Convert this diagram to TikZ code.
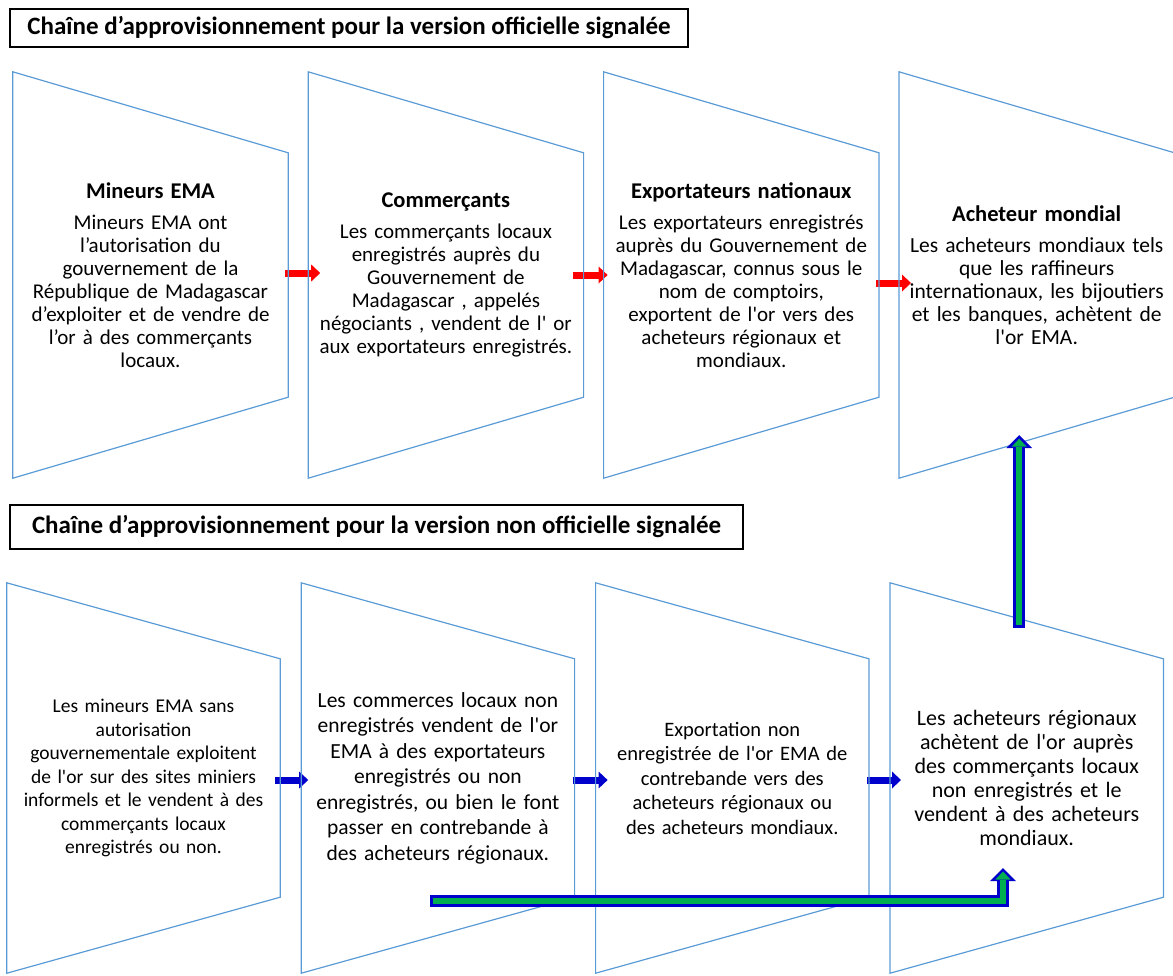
\documentclass[tikz,border=0pt]{standalone}
\usepackage{fontspec}
\setmainfont{Carlito}[Ligatures=TeXOff]
\usetikzlibrary{positioning,arrows.meta}
\definecolor{edgeblue}{RGB}{91,155,213}
\definecolor{flowred}{RGB}{255,0,0}
\definecolor{flowblue}{RGB}{0,0,204}
\definecolor{smuggreen}{RGB}{0,176,80}
\newcommand\stagehead[1]{{\fontsize{22.5}{26}\selectfont\bfseries #1}\\[8pt]}

\begin{document}
\begin{tikzpicture}[x=1pt,y=-1pt,node distance=20pt,
    stage/.style={minimum width=275pt,minimum height=406pt,inner sep=0pt,text width=272pt,align=center,font=\fontsize{21}{23}\selectfont},
    lowstage/.style={stage,minimum width=273pt,minimum height=390pt,text width=270pt},
    stagebox/.style={draw=edgeblue,line width=1.2pt,line join=miter},
    titlebox/.style={draw,line width=1.8pt,inner sep=0pt,font=\fontsize{25}{28}\selectfont\bfseries},
    legal/.style={draw=flowred,line width=7pt,-{Triangle[length=9pt,width=17pt,line width=0pt]}},
    informal/.style={draw=flowblue,line width=7pt,-{Triangle[length=9pt,width=17pt,line width=0pt]}},
    smugout/.style={draw=flowblue,line width=12pt,line join=miter,-{Triangle[length=13pt,width=26pt,line width=0pt]}},
    smugin/.style={draw=smuggreen,line width=6pt,line join=miter,shorten <=3pt,shorten >=3.5pt,-{Triangle[length=8pt,width=15pt,line width=0pt]}}]
  \useasboundingbox (0,0) rectangle (1173,975);

  % official chain
  \node[titlebox,minimum width=678pt,minimum height=38pt] (t1) at (349,28) {Chaîne d’approvisionnement pour la version officielle signalée};
  \node[stage] (a1) at (150.5,275) {\stagehead{Mineurs EMA}Mineurs EMA ont\\l’autorisation du\\gouvernement de la\\République de Madagascar\\d’exploiter et de vendre de\\l’or à des commerçants\\locaux.};
  \node[stage,right=of a1] (a2) {\stagehead{Commerçants}Les commerçants locaux\\enregistrés auprès du\\Gouvernement de\\Madagascar , appelés\\négociants , vendent de l' or\\aux exportateurs enregistrés.};
  \node[stage,right=of a2] (a3) {\stagehead{Exportateurs nationaux}Les exportateurs enregistrés\\auprès du Gouvernement de\\Madagascar, connus sous le\\nom de comptoirs,\\exportent de l'or vers des\\acheteurs régionaux et\\mondiaux.};
  \node[stage,right=of a3,font=\fontsize{21.5}{23}\selectfont] (a4) {\stagehead{Acheteur mondial}Les acheteurs mondiaux tels\\que les raffineurs\\internationaux, les bijoutiers\\et les banques, achètent de\\l'or EMA.};

  % unofficial chain
  \node[titlebox,minimum width=733pt,minimum height=44pt] (t2) at (376.5,527) {Chaîne d’approvisionnement pour la version non officielle signalée};
  \node[lowstage,font=\fontsize{19.5}{23.5}\selectfont] (b1) at (143.5,778) {Les mineurs EMA sans\\autorisation\\gouvernementale exploitent\\de l'or sur des sites miniers\\informels et le vendent à des\\commerçants locaux\\enregistrés ou non.};
  \node[lowstage,right=21pt of b1,font=\fontsize{21.5}{25.5}\selectfont] (b2) {Les commerces locaux non\\enregistrés vendent de l'or\\EMA à des exportateurs\\enregistrés ou non\\enregistrés, ou bien le font\\passer en contrebande à\\des acheteurs régionaux.};
  \node[lowstage,right=21pt of b2,font=\fontsize{20.5}{24.5}\selectfont] (b3) {Exportation non\\enregistrée de l'or EMA de\\contrebande vers des\\acheteurs régionaux ou\\des acheteurs mondiaux.};
  \node[lowstage,right=21pt of b3,font=\fontsize{22}{24}\selectfont] (b4) {Les acheteurs régionaux\\achètent de l'or auprès\\des commerçants locaux\\non enregistrés et le\\vendent à des acheteurs\\mondiaux.};

  % flows
  \draw[legal] ([xshift=-3pt,yshift=2pt]a1.east) -- ([xshift=12pt,yshift=2pt]a2.west);
  \draw[legal] ([xshift=-11pt]a2.east) -- ([xshift=4pt]a3.west);
  \draw[legal] ([xshift=-3pt,yshift=-8pt]a3.east) -- ([xshift=12pt,yshift=-8pt]a4.west);
  \draw[informal] ([xshift=-5pt,yshift=-2pt]b1.east) -- ([xshift=7pt,yshift=-2pt]b2.west);
  \draw[informal] ([xshift=-2pt,yshift=-2pt]b2.east) -- ([xshift=12pt,yshift=-2pt]b3.west);
  \draw[informal] ([xshift=-2pt,yshift=-2pt]b3.east) -- ([xshift=11pt,yshift=-2pt]b4.west);

  \foreach \n/\d in {a1/81,a2/81,a3/81,a4/81,b1/76,b2/76,b3/76,b4/76}
    \draw[stagebox] (\n.north west) -- ([yshift=-\d pt]\n.north east) -- ([yshift=\d pt]\n.south east) -- (\n.south west) -- cycle;

  % smuggling routes
  \coordinate (smug) at (430,901);
  \coordinate (smugtip) at (1003,868);
  \draw[smugout] (smug) -| (smugtip);
  \draw[smugin] (smug) -| (smugtip);
  \draw[smugout] ([xshift=-7.5pt,yshift=-45pt]b4.north) -- ([xshift=-17.5pt,yshift=43pt]a4.south);
  \draw[smugin] ([xshift=-7.5pt,yshift=-45pt]b4.north) -- ([xshift=-17.5pt,yshift=43pt]a4.south);
\end{tikzpicture}
\end{document}
